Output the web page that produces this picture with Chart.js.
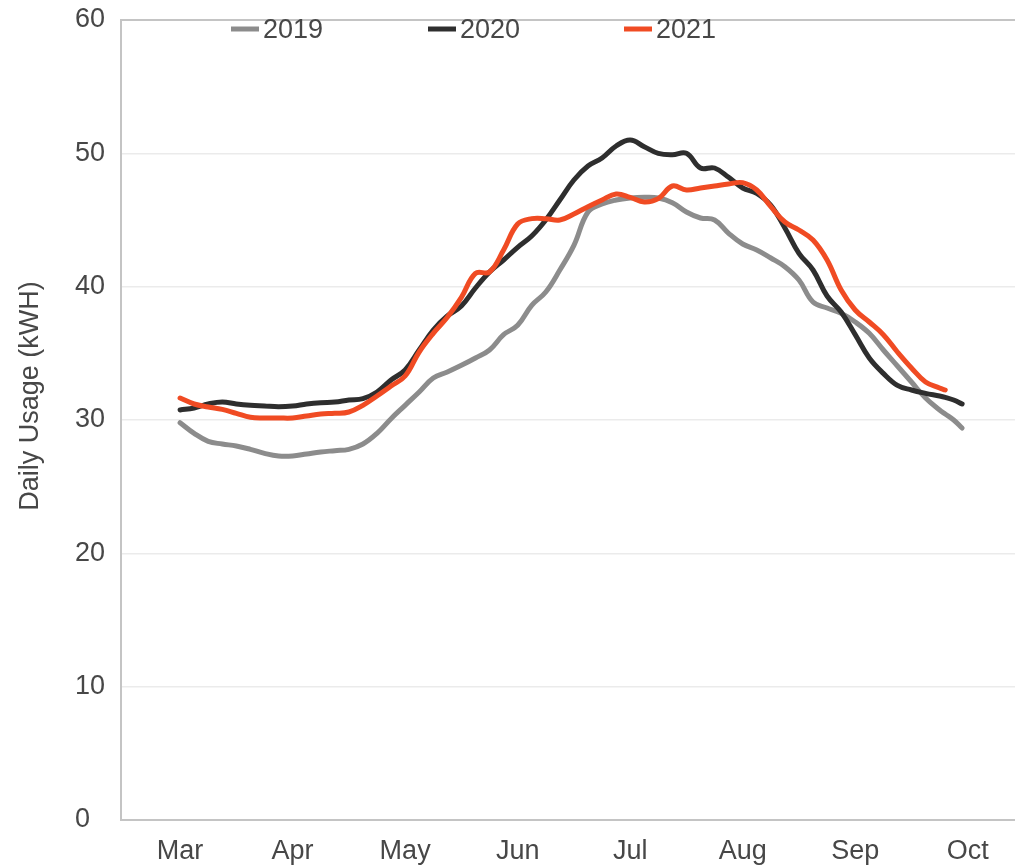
<!DOCTYPE html>
<html>
<head>
<meta charset="utf-8">
<script src="https://cdn.jsdelivr.net/npm/chart.js@4.4.1/dist/chart.umd.min.js"></script>
<style>
  html, body { margin: 0; padding: 0; background: #fff; }
  #wrap { width: 1015px; height: 866px; }
</style>
</head>
<body>
<div id="wrap"><canvas id="usageChart" width="1015" height="866"></canvas></div>
<script>
// month tick labels (x = months since 1 Mar)
const monthLabels = ['Mar', 'Apr', 'May', 'Jun', 'Jul', 'Aug', 'Sep', 'Oct'];

// sample positions along the x axis, in months
const monthPos = [
  0, 0.125, 0.25, 0.375, 0.5, 0.625, 0.75, 0.875,
  1, 1.125, 1.25, 1.375, 1.5, 1.625, 1.75, 1.875,
  2, 2.125, 2.25, 2.375, 2.5, 2.625, 2.75, 2.875,
  3, 3.125, 3.25, 3.375, 3.5, 3.625, 3.75, 3.875,
  4, 4.125, 4.25, 4.375, 4.5, 4.625, 4.75, 4.875,
  5, 5.125, 5.25, 5.375, 5.5, 5.625, 5.75, 5.875,
  6, 6.125, 6.25, 6.375, 6.5, 6.625, 6.75, 6.8, 6.875, 6.95
];

const usage2019 = [
  29.8, 29.0, 28.4, 28.2, 28.05, 27.8, 27.5, 27.3,
  27.3, 27.45, 27.6, 27.7, 27.8, 28.2, 29.0, 30.1,
  31.1, 32.1, 33.15, 33.6, 34.1, 34.65, 35.25, 36.4,
  37.1, 38.6, 39.6, 41.25, 43.1, 45.6, 46.2, 46.5,
  46.65, 46.7, 46.65, 46.3, 45.6, 45.15, 45.0, 44.0,
  43.2, 42.75, 42.15, 41.5, 40.5, 38.85, 38.4, 38.0,
  37.35, 36.5, 35.25, 34.05, 32.85, 31.65, 30.75, 30.45, 30.0, 29.4
];

const usage2020 = [
  30.75, 30.9, 31.2, 31.35, 31.2, 31.1, 31.05, 31.0,
  31.05, 31.2, 31.3, 31.35, 31.5, 31.6, 32.1, 33.0,
  33.75, 35.25, 36.75, 37.8, 38.55, 39.9, 41.1, 42.0,
  42.95, 43.8, 45.0, 46.5, 48.0, 49.05, 49.65, 50.55,
  51.0, 50.5, 50.0, 49.9, 50.0, 48.9, 48.9, 48.2,
  47.4, 47.0, 46.1, 44.4, 42.5, 41.25, 39.3, 38.1,
  36.4, 34.65, 33.5, 32.6, 32.25, 32.0, 31.8, 31.7, 31.5, 31.2
];

const usage2021 = [
  31.65, 31.2, 30.98, 30.8, 30.5, 30.2, 30.15, 30.15,
  30.15, 30.3, 30.45, 30.5, 30.6, 31.1, 31.8, 32.55,
  33.3, 35.1, 36.5, 37.7, 39.2, 41.0, 41.1, 42.75,
  44.7, 45.1, 45.1, 45.0, 45.45, 46.0, 46.5, 46.95,
  46.7, 46.35, 46.6, 47.55, 47.25, 47.4, 47.55, 47.7,
  47.8, 47.25, 46.0, 44.85, 44.25, 43.5, 42.0, 39.75,
  38.25, 37.35, 36.4, 35.1, 33.9, 32.85, 32.4, 32.25, null, null
];

const seriesNames = ['2019', '2020', '2021'];
const seriesColors = ['#8c8c8c', '#2e2e2e', '#f04b23'];

function toPoints(values) {
  return monthPos.map((x, i) => ({ x: x, y: values[i] }));
}

const textColor = '#474747';
const fontFamily = '"Liberation Sans", Arial, sans-serif';

// legend drawn inside the plot, along the top edge
const topLegend = {
  id: 'topLegend',
  afterDraw(chart) {
    const ctx = chart.ctx;
    const starts = [231, 428, 624];
    ctx.save();
    ctx.font = '27px ' + fontFamily;
    ctx.textBaseline = 'middle';
    ctx.textAlign = 'left';
    chart.data.datasets.forEach((ds, i) => {
      const x = starts[i];
      ctx.strokeStyle = ds.borderColor;
      ctx.lineWidth = 5;
      ctx.beginPath();
      ctx.moveTo(x, 29);
      ctx.lineTo(x + 28, 29);
      ctx.stroke();
      ctx.fillStyle = textColor;
      ctx.fillText(ds.label, x + 32, 31);
    });
    ctx.restore();
  }
};

// y axis title
const yTitle = {
  id: 'yTitle',
  afterDraw(chart) {
    const ctx = chart.ctx;
    ctx.save();
    ctx.translate(31, 396);
    ctx.rotate(-Math.PI / 2);
    ctx.font = '27px ' + fontFamily;
    ctx.fillStyle = textColor;
    ctx.textAlign = 'center';
    ctx.textBaseline = 'middle';
    ctx.fillText('Daily Usage (kWH)', 0, 0);
    ctx.restore();
  }
};

const ctx = document.getElementById('usageChart').getContext('2d');
new Chart(ctx, {
  type: 'line',
  data: {
    datasets: [
      { label: seriesNames[0], data: toPoints(usage2019), borderColor: seriesColors[0], order: 2 },
      { label: seriesNames[1], data: toPoints(usage2020), borderColor: seriesColors[1], order: 1 },
      { label: seriesNames[2], data: toPoints(usage2021), borderColor: seriesColors[2], order: 0 }
    ]
  },
  options: {
    responsive: false,
    animation: false,
    layout: { padding: { left: 75, top: 20, right: 0, bottom: 0 } },
    elements: {
      line: { borderWidth: 5, tension: 0.4, fill: false, borderCapStyle: 'round' },
      point: { radius: 0, hoverRadius: 0 }
    },
    plugins: {
      legend: { display: false },
      tooltip: { enabled: false }
    },
    scales: {
      x: {
        type: 'linear',
        min: -0.525,
        max: 7.42,
        afterFit(scale) { scale.height = 46; },
        afterBuildTicks(scale) {
          scale.ticks = monthLabels.map((m, i) => ({ value: i }));
        },
        ticks: {
          callback: (v) => monthLabels[v],
          color: textColor,
          font: { family: fontFamily, size: 27 },
          padding: 15,
          maxRotation: 0,
          autoSkip: false
        },
        grid: { drawOnChartArea: false, drawTicks: false, color: 'transparent' },
        border: { display: true, color: '#c4c4c4', width: 2 }
      },
      y: {
        min: 0,
        max: 60,
        afterFit(scale) { scale.width = 46; },
        ticks: {
          stepSize: 10,
          color: textColor,
          font: { family: fontFamily, size: 27 },
          crossAlign: 'far'
        },
        grid: {
          drawTicks: false,
          color: (c) => (c.tick && c.tick.value === 60 ? '#c4c4c4' : '#ebebeb'),
          lineWidth: (c) => (c.tick && c.tick.value === 60 ? 2 : 1.5)
        },
        border: { display: true, color: '#c4c4c4', width: 2 }
      }
    }
  },
  plugins: [topLegend, yTitle]
});
</script>
</body>
</html>
